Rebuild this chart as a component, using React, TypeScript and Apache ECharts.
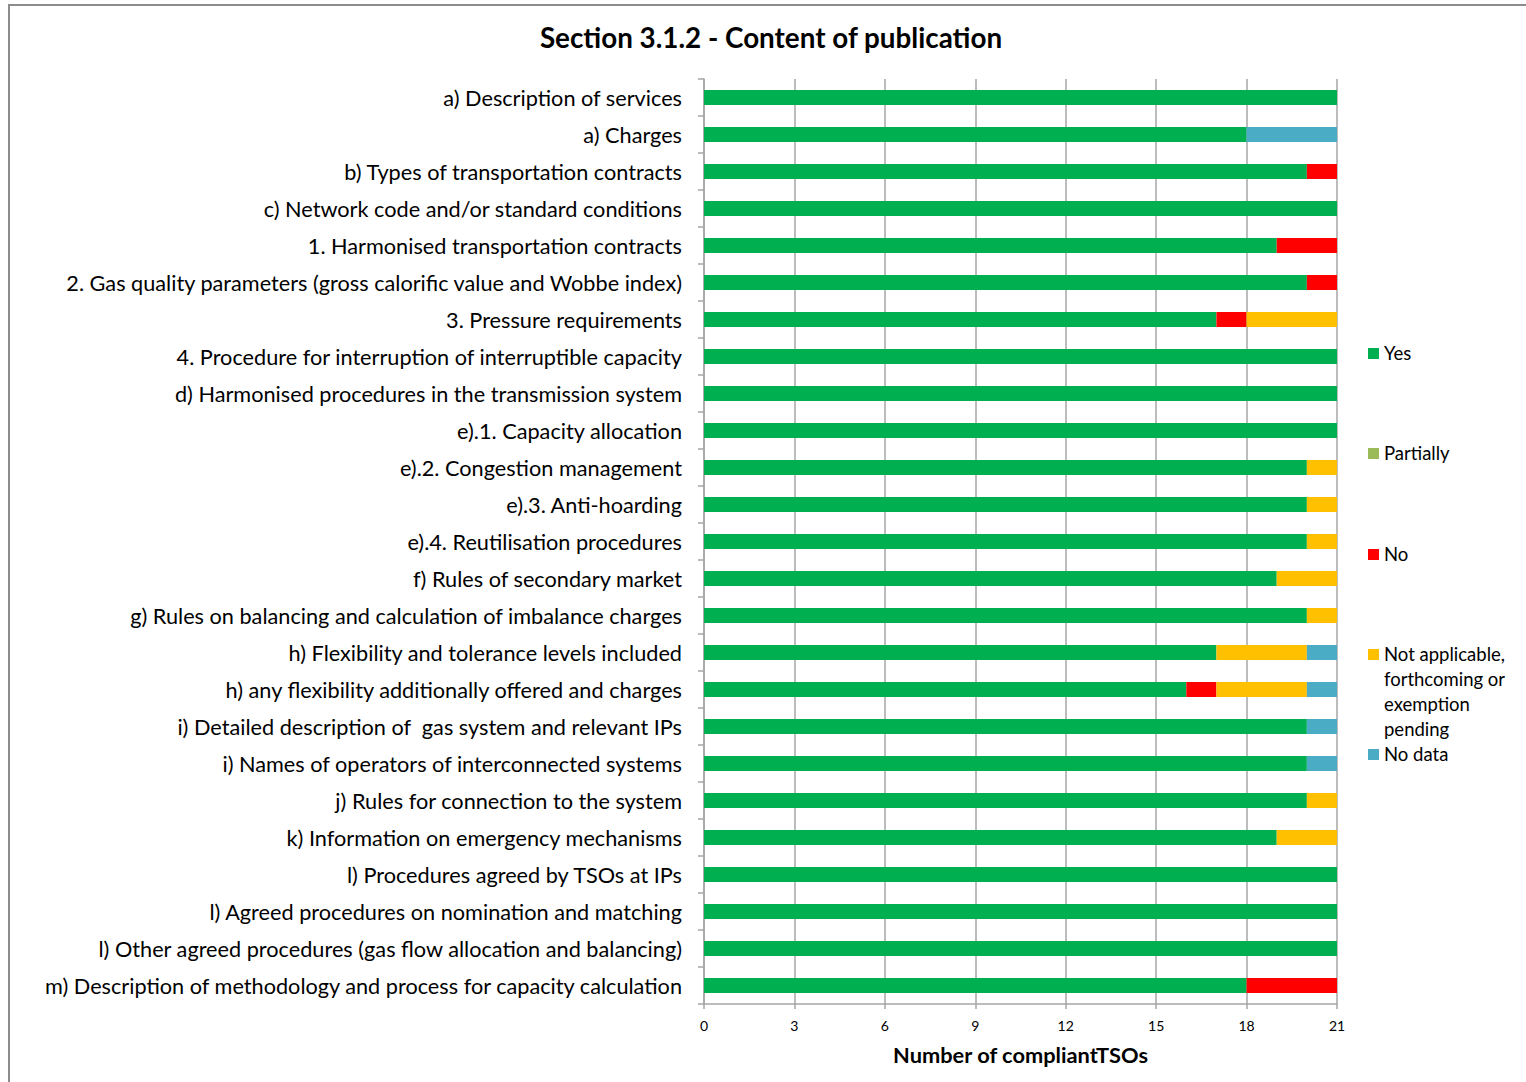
import React, { useEffect, useRef } from "react";
import * as echarts from "echarts";

const categories = [
  "a) Description of services",
  "a) Charges",
  "b) Types of transportation contracts",
  "c) Network code and/or standard conditions",
  "1. Harmonised transportation contracts",
  "2. Gas quality parameters (gross calorific value and Wobbe index)",
  "3. Pressure requirements",
  "4. Procedure for interruption of interruptible capacity",
  "d) Harmonised procedures in the transmission system",
  "e).1. Capacity allocation",
  "e).2. Congestion management",
  "e).3. Anti-hoarding",
  "e).4. Reutilisation procedures",
  "f) Rules of secondary market",
  "g) Rules on balancing and calculation of imbalance charges",
  "h) Flexibility and tolerance levels included",
  "h) any flexibility additionally offered and charges",
  "i) Detailed description of  gas system and relevant IPs",
  "i) Names of operators of interconnected systems",
  "j) Rules for connection to the system",
  "k) Information on emergency mechanisms",
  "l) Procedures agreed by TSOs at IPs",
  "l) Agreed procedures on nomination and matching",
  "l) Other agreed procedures (gas flow allocation and balancing)",
  "m) Description of methodology and process for capacity calculation",
];

const yesValues = [21, 18, 20, 21, 19, 20, 17, 21, 21, 21, 20, 20, 20, 19, 20, 17, 16, 20, 20, 20, 19, 21, 21, 21, 18];
const partiallyValues = [0, 0, 0, 0, 0, 0, 0, 0, 0, 0, 0, 0, 0, 0, 0, 0, 0, 0, 0, 0, 0, 0, 0, 0, 0];
const noValues = [0, 0, 1, 0, 2, 1, 1, 0, 0, 0, 0, 0, 0, 0, 0, 0, 1, 0, 0, 0, 0, 0, 0, 0, 3];
const naValues = [0, 0, 0, 0, 0, 0, 3, 0, 0, 0, 1, 1, 1, 2, 1, 3, 3, 0, 0, 1, 2, 0, 0, 0, 0];
const noDataValues = [0, 3, 0, 0, 0, 0, 0, 0, 0, 0, 0, 0, 0, 0, 0, 1, 1, 1, 1, 0, 0, 0, 0, 0, 0];

const seriesNames = ["Yes", "Partially", "No", "Not applicable,\nforthcoming or\nexemption\npending", "No data"];
const seriesColors = ["#00B050", "#9BBB59", "#FF0000", "#FFC000", "#4BACC6"];
const xTicks = { min: 0, max: 21, interval: 3 };

const FONT = "Lato, 'Open Sans', sans-serif";

export default function App() {
  const ref = useRef<HTMLDivElement>(null);
  useEffect(() => {
    if (!ref.current) return;
    const chart = echarts.init(ref.current, null, { renderer: "svg" });
    const dataSets = [yesValues, partiallyValues, noValues, naValues, noDataValues];
    const legendTops = [353, 453, 554, 654, 754];
    const legendGraphics: any[] = [];
    seriesNames.forEach((name, i) => {
      legendGraphics.push({
        type: "rect",
        shape: { x: 1368, y: legendTops[i] - 5, width: 11, height: 11 },
        style: { fill: seriesColors[i] },
      });
      legendGraphics.push({
        type: "text",
        x: 1384,
        y: legendTops[i] - 13,
        style: {
          text: name,
          font: `18.5px ${FONT}`,
          fill: "#000",
          lineHeight: 25,
          verticalAlign: "top",
        },
      });
    });
    chart.setOption({
      animation: false,
      backgroundColor: "#fff",
      title: {
        text: "Section 3.1.2 - Content of publication",
        left: 766,
        top: 18,
        textAlign: "center",
        textStyle: { fontFamily: FONT, fontSize: 27.8, fontWeight: "bold", color: "#000" },
      },
      grid: { left: 704, right: 189, top: 79, bottom: 78 },
      xAxis: {
        type: "value",
        min: xTicks.min,
        max: xTicks.max,
        interval: xTicks.interval,
        name: "Number of compliantTSOs",
        nameLocation: "middle",
        nameGap: 39,
        nameTextStyle: { fontFamily: FONT, fontSize: 21.8, fontWeight: "bold", color: "#000" },
        axisLine: { show: true, lineStyle: { color: "#a6a6a6", width: 1.5 } },
        axisTick: { show: true, length: 5, lineStyle: { color: "#a6a6a6", width: 1.5 } },
        axisLabel: { fontFamily: FONT, fontSize: 14, color: "#000", margin: 14 },
        splitLine: { show: true, lineStyle: { color: "#a6a6a6", width: 1.5 } },
      },
      yAxis: {
        type: "category",
        data: categories,
        inverse: true,
        axisLine: { show: true, lineStyle: { color: "#a6a6a6", width: 1.5 } },
        axisTick: { show: true, length: 6, lineStyle: { color: "#a6a6a6", width: 1.5 } },
        axisLabel: { fontFamily: FONT, fontSize: 21.7, color: "#000", margin: 22, padding: [0, 0, 5, 0] },
        splitLine: { show: false },
      },
      series: seriesNames.map((name, i) => ({
        name,
        type: "bar",
        stack: "total",
        barWidth: 15,
        data: dataSets[i],
        itemStyle: { color: seriesColors[i] },
      })),
      graphic: [
        {
          type: "rect",
          shape: { x: 9, y: 5, width: 1540, height: 1100 },
          style: { fill: "none", stroke: "#8c8c8c", lineWidth: 2 },
          z: 100,
        },
        ...legendGraphics,
      ],
    });
    return () => chart.dispose();
  }, []);
  return (
    <div
      ref={ref}
      style={{ position: "fixed", left: 0, top: 0, width: 1526, height: 1082, background: "#fff" }}
    />
  );
}
